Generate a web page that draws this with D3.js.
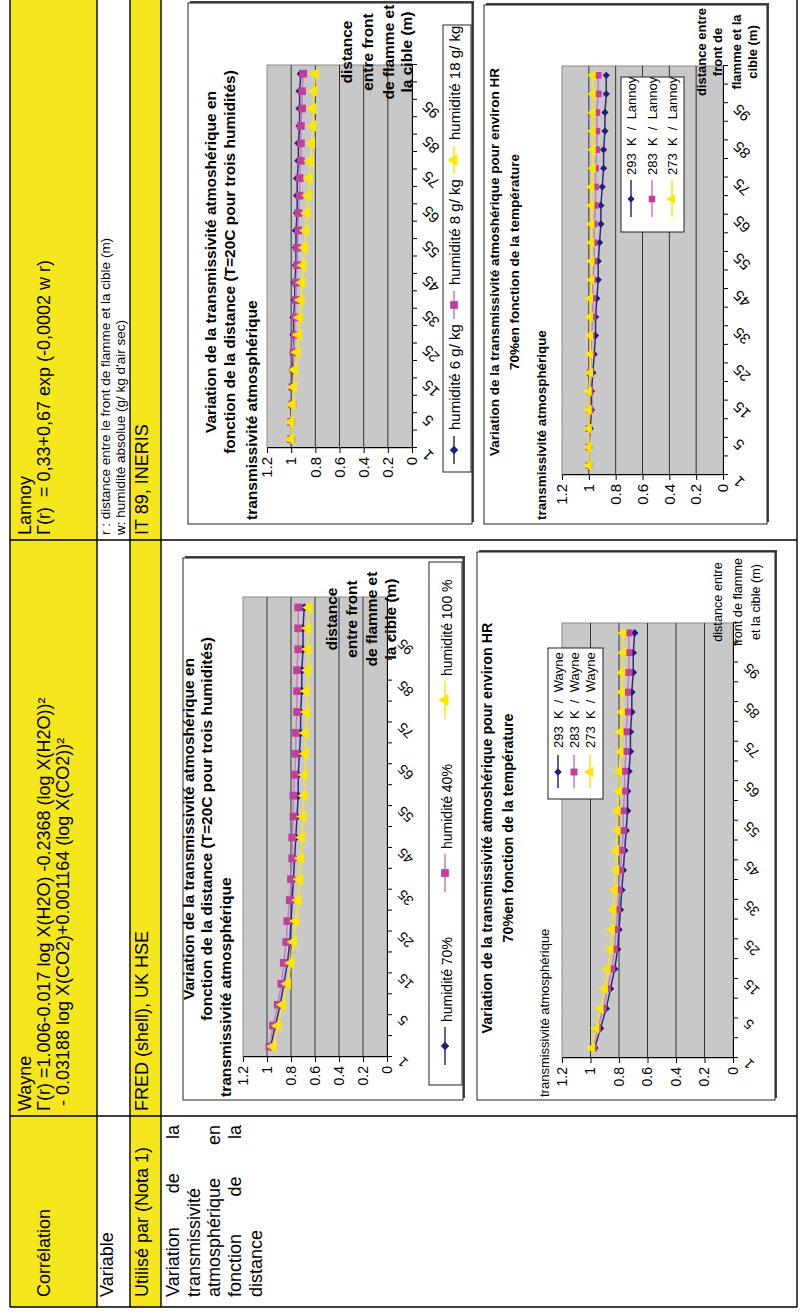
<!DOCTYPE html>
<html>
<head>
<meta charset="utf-8">
<script src="https://cdn.jsdelivr.net/npm/d3@7"></script>
<style>
  html, body { margin: 0; padding: 0; background: #fff; }
  svg { display: block; }
</style>
</head>
<body>
<script>
// ---------- data ----------
// distance between flame front and target (m), shared by the four charts
const distances = [1, 2, 5, 10, 15, 20, 25, 30, 35, 40, 45, 50, 55, 60, 65, 70, 75, 80, 85, 90, 95, 100];
const labelledDistances = [1, 5, 15, 25, 35, 45, 55, 65, 75, 85, 95];
const valueTicks = [0, 0.2, 0.4, 0.6, 0.8, 1, 1.2];

// Wayne, T = 20 C, three relative humidities
const wayneHum70  = [0.97, 0.93, 0.89, 0.86, 0.83, 0.81, 0.80, 0.79, 0.78, 0.77, 0.76, 0.75, 0.74, 0.74, 0.73, 0.72, 0.72, 0.71, 0.71, 0.70, 0.70, 0.69];
const wayneHum40  = [0.98, 0.95, 0.91, 0.88, 0.86, 0.84, 0.83, 0.81, 0.80, 0.79, 0.79, 0.78, 0.78, 0.77, 0.76, 0.76, 0.75, 0.75, 0.75, 0.74, 0.74, 0.74];
const wayneHum100 = [0.95, 0.91, 0.87, 0.83, 0.80, 0.78, 0.76, 0.74, 0.73, 0.72, 0.71, 0.70, 0.69, 0.69, 0.68, 0.68, 0.67, 0.67, 0.66, 0.66, 0.66, 0.65];

// Wayne, HR about 70 %, three temperatures
const wayne293 = [0.97, 0.93, 0.89, 0.86, 0.83, 0.81, 0.80, 0.79, 0.78, 0.77, 0.76, 0.75, 0.74, 0.74, 0.73, 0.72, 0.72, 0.71, 0.71, 0.70, 0.70, 0.69];
const wayne283 = [0.98, 0.95, 0.91, 0.88, 0.85, 0.83, 0.82, 0.81, 0.80, 0.79, 0.78, 0.77, 0.77, 0.76, 0.76, 0.75, 0.75, 0.74, 0.74, 0.73, 0.73, 0.73];
const wayne273 = [0.99, 0.96, 0.93, 0.90, 0.88, 0.86, 0.85, 0.84, 0.83, 0.82, 0.82, 0.81, 0.81, 0.80, 0.80, 0.79, 0.79, 0.78, 0.78, 0.78, 0.77, 0.77];

// Lannoy, T = 20 C, three absolute humidities (g/kg)
const lannoy6  = [1.00, 1.00, 1.00, 0.99, 0.99, 0.98, 0.98, 0.98, 0.97, 0.97, 0.96, 0.96, 0.96, 0.95, 0.95, 0.95, 0.94, 0.94, 0.93, 0.93, 0.93, 0.92];
const lannoy8  = [1.00, 1.00, 0.99, 0.99, 0.98, 0.98, 0.97, 0.97, 0.96, 0.96, 0.95, 0.95, 0.94, 0.94, 0.93, 0.93, 0.92, 0.92, 0.92, 0.91, 0.91, 0.90];
const lannoy18 = [1.00, 1.00, 0.99, 0.98, 0.97, 0.95, 0.94, 0.93, 0.92, 0.91, 0.90, 0.89, 0.88, 0.87, 0.86, 0.85, 0.84, 0.83, 0.82, 0.82, 0.81, 0.80];

// Lannoy, HR about 70 %, three temperatures
const lannoy293 = [1.00, 1.00, 0.99, 0.98, 0.98, 0.97, 0.96, 0.95, 0.95, 0.94, 0.93, 0.93, 0.92, 0.91, 0.91, 0.90, 0.89, 0.89, 0.88, 0.88, 0.87, 0.87];
const lannoy283 = [1.00, 1.00, 1.00, 0.99, 0.99, 0.99, 0.98, 0.98, 0.97, 0.97, 0.97, 0.96, 0.96, 0.96, 0.95, 0.95, 0.95, 0.94, 0.94, 0.94, 0.93, 0.93];
const lannoy273 = [1.00, 1.00, 1.00, 1.00, 1.00, 0.99, 0.99, 0.99, 0.99, 0.99, 0.98, 0.98, 0.98, 0.98, 0.98, 0.98, 0.97, 0.97, 0.97, 0.97, 0.97, 0.97];

const humidityNamesWayne  = ["humidité 70%", "humidité 40%", "humidité 100 %"];
const humidityNamesLannoy = ["humidité 6 g/ kg", "humidité 8 g/ kg", "humidité 18 g/ kg"];
const temperatureNamesWayne  = ["293  K  /  Wayne", "283  K  /  Wayne", "273  K  /  Wayne"];
const temperatureNamesLannoy = ["293  K  /  Lannoy", "283  K  /  Lannoy", "273  K  /  Lannoy"];

// ---------- page ----------
const FONT = "'Liberation Sans', Arial, Helvetica, sans-serif";
const W = 812, H = 1314;
const YELLOW = "#f6e71c";

const svg = d3.select("body").append("svg")
  .attr("width", W).attr("height", H)
  .attr("font-family", FONT);
svg.append("rect").attr("width", W).attr("height", H).attr("fill", "#fff");

// the sheet is laid out in landscape and turned a quarter turn counter-clockwise
const page = svg.append("g").attr("transform", `translate(0,${H}) rotate(-90)`);

// ---------- table ----------
const rowEdges = [10, 97, 130, 161, 797];
const colEdges = [7, 198, 774];
const tableEnd = 1330, tableBottom = 797;

page.append("rect").attr("x", 7).attr("y", 10).attr("width", tableEnd - 7).attr("height", 87).attr("fill", YELLOW);
page.append("rect").attr("x", 7).attr("y", 130).attr("width", tableEnd - 7).attr("height", 31).attr("fill", YELLOW);

page.append("g").selectAll("line").data(rowEdges).join("line")
  .attr("x1", 7).attr("x2", tableEnd).attr("y1", d => d).attr("y2", d => d)
  .attr("stroke", "#000").attr("stroke-width", 1.4);
page.append("g").selectAll("line").data(colEdges).join("line")
  .attr("x1", d => d).attr("x2", d => d).attr("y1", 10).attr("y2", tableBottom)
  .attr("stroke", "#000").attr("stroke-width", 1.4);

const cellTexts = [
  { x: 17,  y: 50,  size: 18,   t: "Corrélation" },
  { x: 203, y: 31,  size: 18,   t: "Wayne" },
  { x: 203, y: 50,  size: 18,   t: "Γ(r) =1.006-0.017 log X(H2O) -0.2368 (log X(H2O))²" },
  { x: 203, y: 69,  size: 18,   t: " - 0.03188 log X(CO2)+0.001164 (log X(CO2))²" },
  { x: 779, y: 31,  size: 18,   t: "Lannoy" },
  { x: 779, y: 50,  size: 18,   t: "Γ(r)  = 0,33+0,67 exp (-0,0002 w r)" },
  { x: 17,  y: 113, size: 18,   t: "Variable" },
  { x: 779, y: 110, size: 13.5, t: "r : distance entre le front de flamme et la cible (m)" },
  { x: 779, y: 125, size: 13.5, t: "w: humidité absolue (g/ kg d'air sec)" },
  { x: 17,  y: 148, size: 18,   t: "Utilisé par (Nota 1)" },
  { x: 203, y: 148, size: 18,   t: "FRED (shell), UK HSE" },
  { x: 779, y: 148, size: 18,   t: "IT 89, INERIS" }
];
page.append("g").selectAll("text").data(cellTexts).join("text")
  .attr("x", d => d.x).attr("y", d => d.y)
  .attr("font-size", d => d.size)
  .style("white-space", "pre")
  .text(d => d.t);

// justified paragraph in the first column
const introLines = [["Variation", "de", "la"], ["transmissivité"], ["atmosphérique", "en"], ["fonction", "de", "la"], ["distance"]];
const introBaselines = [179, 200, 220, 241, 262];
const introLeft = 17, introRight = 189;
const intro = page.append("g").attr("font-size", 18);
introLines.forEach((words, li) => {
  const nodes = words.map(w => intro.append("text").attr("y", introBaselines[li]).text(w));
  const widths = nodes.map(n => n.node().getComputedTextLength());
  if (words.length === 1) { nodes[0].attr("x", introLeft); return; }
  const gap = (introRight - introLeft - d3.sum(widths)) / (words.length - 1);
  let x = introLeft;
  nodes.forEach((n, i) => { n.attr("x", x); x += widths[i] + gap; });
});

// ---------- charts ----------
const NAVY = { line: "#2a2a8c", fill: "#1f1f7a", shape: "diamond" };
const MAGENTA = { line: "#d277c4", fill: "#c0409f", shape: "square" };
const YEL = { line: "#fbe800", fill: "#fbe800", shape: "triangle" };

const shapes = {
  diamond: d3.symbol(d3.symbolSquare, 36)(),
  square: d3.symbol(d3.symbolSquare, 60)(),
  triangle: d3.symbol(d3.symbolTriangle, 62)()
};
function marker(sel, style, x, y, k) {
  sel.append("path")
    .attr("d", shapes[style.shape])
    .attr("transform", `translate(${x},${y}) scale(${k})${style.shape === "diamond" ? " rotate(45)" : ""}`)
    .attr("fill", style.fill);
}

function drawChart(c) {
  const g = page.append("g");
  const [bx0, by0, bx1, by1] = c.box;

  // frame with a thin shadow
  g.append("rect").attr("x", bx0 + 2).attr("y", by0 + 2).attr("width", bx1 - bx0).attr("height", by1 - by0).attr("fill", "#444");
  g.append("rect").attr("x", bx0).attr("y", by0).attr("width", bx1 - bx0).attr("height", by1 - by0)
    .attr("fill", "#fff").attr("stroke", "#222").attr("stroke-width", 1);

  const [px0, px1, pyTop, pyBot] = c.plot;
  const x = d3.scaleBand().domain(distances).range([px0, px1]);
  const y = d3.scaleLinear().domain([0, 1.2]).range([pyBot, pyTop]);
  const cx = d => x(d) + x.bandwidth() / 2;

  // plot area and gridlines
  g.append("rect").attr("x", px0).attr("y", y(1.2)).attr("width", px1 - px0).attr("height", y(0) - y(1.2))
    .attr("fill", "#c8c8c8").attr("stroke", "#8c8c8c");
  g.append("g").selectAll("line").data(valueTicks.filter(v => v > 0 && v < 1.2)).join("line")
    .attr("x1", px0).attr("x2", px1).attr("y1", d => y(d)).attr("y2", d => y(d))
    .attr("stroke", "#333").attr("stroke-width", 1);

  // value axis
  const ay = g.append("g").attr("transform", `translate(${px0},0)`)
    .call(d3.axisLeft(y).tickValues(valueTicks).tickSize(5).tickSizeOuter(0).tickPadding(4)
      .tickFormat(d => String(+d.toFixed(1))));
  ay.attr("font-family", FONT).attr("font-size", c.tickFont);
  ay.selectAll(".domain, line").attr("stroke", "#000");
  ay.selectAll("text").attr("fill", "#000");

  // category axis: ticks at category boundaries, labels every other category
  const xb = d3.scaleLinear().domain([0, distances.length]).range([px0, px1]);
  const ax = g.append("g").attr("transform", `translate(0,${y(0)})`)
    .call(d3.axisBottom(xb).tickValues(d3.range(distances.length + 1)).tickSize(5).tickSizeOuter(0).tickFormat(""));
  ax.selectAll(".domain, line").attr("stroke", "#000");
  g.append("g").attr("font-size", c.tickFont).selectAll("text").data(labelledDistances).join("text")
    .attr("transform", d => `translate(${cx(d) - 13},${y(0) + 13}) rotate(-45)`)
    .attr("text-anchor", "end").attr("dy", "0.35em")
    .text(d => d);

  // series
  c.series.forEach(s => {
    const line = d3.line().x((v, i) => cx(distances[i])).y(v => y(v));
    g.append("path").attr("d", line(s.values)).attr("fill", "none")
      .attr("stroke", s.style.line).attr("stroke-width", 1.5);
    const mg = g.append("g");
    s.values.forEach((v, i) => marker(mg, s.style, cx(distances[i]), y(v), c.markerScale));
  });

  // titles
  g.append("g").attr("font-weight", "bold").attr("font-size", c.title.size)
    .selectAll("text").data(c.title.lines).join("text")
    .attr("x", c.title.x).attr("y", (d, i) => c.title.y[i]).attr("text-anchor", "middle").text(d => d);
  g.append("text").attr("x", c.yTitle.x).attr("y", c.yTitle.y)
    .attr("font-size", c.yTitle.size).attr("font-weight", c.yTitle.weight).text("transmissivité atmosphérique");
  g.append("g").attr("font-weight", c.xTitle.weight).attr("font-size", c.xTitle.size)
    .selectAll("text").data(c.xTitle.lines).join("text")
    .attr("x", c.xTitle.x).attr("y", (d, i) => c.xTitle.y[i]).attr("text-anchor", "middle").text(d => d);

  // legend
  const L = c.legend;
  const lg = g.append("g").attr("font-size", L.size);
  lg.append("rect").attr("x", L.box[0]).attr("y", L.box[1]).attr("width", L.box[2] - L.box[0]).attr("height", L.box[3] - L.box[1])
    .attr("fill", "#fff").attr("stroke", "#222");
  c.series.forEach((s, i) => {
    let sx, sy, tx, ty, lx0, lx1;
    if (L.kind === "row") {
      sx = L.symbolX[i]; sy = L.symbolY;
      lx0 = sx - L.half; lx1 = sx + L.half;
      tx = sx + L.textOffset; ty = L.baseline;
    } else {
      sx = L.symbolX; sy = L.rows[i];
      lx0 = L.lineX[0]; lx1 = L.lineX[1];
      tx = L.textX; ty = sy + L.dy;
    }
    lg.append("line").attr("x1", lx0).attr("x2", lx1).attr("y1", sy).attr("y2", sy)
      .attr("stroke", s.style.line).attr("stroke-width", 1.5);
    marker(lg, s.style, sx, sy, c.markerScale);
    lg.append("text").attr("x", tx).attr("y", ty).style("white-space", "pre").text(s.name);
  });
}

const charts = [
  {
    box: [214, 183, 756, 463],
    plot: [257, 717, 243, 387],
    tickFont: 14, markerScale: 1,
    title: { x: 485, y: [194, 212], size: 15.5,
      lines: ["Variation de la transmissivité atmoshérique en", "fonction de la distance (T=20C pour trois humidités)"] },
    yTitle: { x: 217, y: 231, size: 15.5, weight: "bold" },
    xTitle: { x: 695, y: [337, 357, 377, 396], size: 15.5, weight: "bold",
      lines: ["distance", "entre front", "de flamme et", "la cible (m)"] },
    legend: { kind: "row", box: [229, 429, 752, 462], symbolX: [268, 441, 614], symbolY: 445,
      baseline: 452, half: 19, textOffset: 24, size: 14 },
    series: [
      { name: humidityNamesWayne[0], values: wayneHum70, style: NAVY },
      { name: humidityNamesWayne[1], values: wayneHum40, style: MAGENTA },
      { name: humidityNamesWayne[2], values: wayneHum100, style: YEL }
    ]
  },
  {
    box: [214, 477, 762, 775],
    plot: [256, 691, 562, 733],
    tickFont: 14, markerScale: 0.9,
    title: { x: 486, y: [492, 513], size: 14.3,
      lines: ["Variation de la transmissivité atmoshérique pour environ HR", "70%en fonction de la température"] },
    yTitle: { x: 217, y: 549, size: 13, weight: "normal" },
    xTitle: { x: 712, y: [722, 742, 760], size: 12.7, weight: "normal",
      lines: ["distance entre", "front de flamme", "et la cible (m)"] },
    legend: { kind: "column", box: [515, 548, 666, 603], rows: [558, 574, 590], lineX: [526, 559],
      symbolX: 542, textX: 566, dy: 5, size: 13 },
    series: [
      { name: temperatureNamesWayne[0], values: wayne293, style: NAVY },
      { name: temperatureNamesWayne[1], values: wayne283, style: MAGENTA },
      { name: temperatureNamesWayne[2], values: wayne273, style: YEL }
    ]
  },
  {
    box: [790, 188, 1311, 472],
    plot: [866, 1249, 267, 412],
    tickFont: 15, markerScale: 1,
    title: { x: 1052, y: [216, 235], size: 15.5,
      lines: ["Variation de la transmissivité atmoshérique en", "fonction de la distance (T=20C pour trois humidités)"] },
    yTitle: { x: 794, y: 257, size: 15.5, weight: "bold" },
    xTitle: { x: 1262, y: [352, 373, 394, 412], size: 15.5, weight: "bold",
      lines: ["distance", "entre front", "de flamme et", "la cible (m)"] },
    legend: { kind: "row", box: [842, 443, 1289, 471], symbolX: [864, 1009, 1154], symbolY: 454,
      baseline: 460, half: 14, textOffset: 20, size: 15 },
    series: [
      { name: humidityNamesLannoy[0], values: lannoy6, style: NAVY },
      { name: humidityNamesLannoy[1], values: lannoy8, style: MAGENTA },
      { name: humidityNamesLannoy[2], values: lannoy18, style: YEL }
    ]
  },
  {
    box: [790, 484, 1309, 767],
    plot: [839, 1248, 562, 723],
    tickFont: 15, markerScale: 0.85,
    title: { x: 1052, y: [499, 519], size: 13.5,
      lines: ["Variation de la transmissivité atmoshérique pour environ HR", "70%en fonction de la température"] },
    yTitle: { x: 794, y: 546, size: 13.4, weight: "bold" },
    xTitle: { x: 1262, y: [706, 722, 741, 757], size: 13, weight: "bold",
      lines: ["distance entre", "front de", "flamme et la", "cible (m)"] },
    legend: { kind: "column", box: [1082, 621, 1237, 684], rows: [631, 652, 672], lineX: [1097, 1134],
      symbolX: 1115, textX: 1139, dy: 5, size: 13 },
    series: [
      { name: temperatureNamesLannoy[0], values: lannoy293, style: NAVY },
      { name: temperatureNamesLannoy[1], values: lannoy283, style: MAGENTA },
      { name: temperatureNamesLannoy[2], values: lannoy273, style: YEL }
    ]
  }
];
charts.forEach(drawChart);
</script>
</body>
</html>
